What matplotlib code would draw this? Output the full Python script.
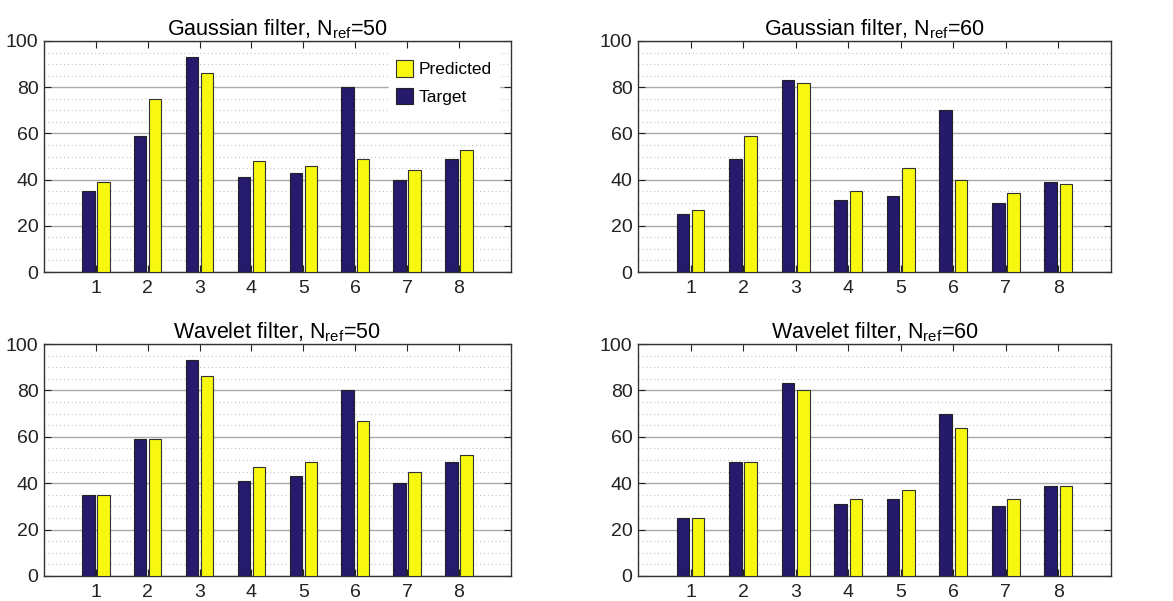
import numpy as np
import matplotlib.pyplot as plt
from matplotlib.ticker import MultipleLocator

plt.rcParams['font.family'] = ['Liberation Sans', 'DejaVu Sans']
plt.rcParams['mathtext.fontset'] = 'custom'
plt.rcParams['mathtext.rm'] = 'Liberation Sans'

categories = [1, 2, 3, 4, 5, 6, 7, 8]
titles = [r'Gaussian filter, N$_{\rm ref}$=50', r'Gaussian filter, N$_{\rm ref}$=60',
          r'Wavelet filter, N$_{\rm ref}$=50', r'Wavelet filter, N$_{\rm ref}$=60']

target_50 = [35, 59, 93, 41, 43, 80, 40, 49]
target_60 = [25, 49, 83, 31, 33, 70, 30, 39]
gauss_pred_50 = [39, 75, 86, 48, 46, 49, 44, 53]
gauss_pred_60 = [27, 59, 82, 35, 45, 40, 34, 38]
wave_pred_50 = [35, 59, 86, 47, 49, 67, 45, 52]
wave_pred_60 = [25, 49, 80, 33, 37, 64, 33, 39]

targets = [target_50, target_60, target_50, target_60]
preds = [gauss_pred_50, gauss_pred_60, wave_pred_50, wave_pred_60]

navy = '#261a6c'
yellow = '#f7f710'

fig = plt.figure(figsize=(11.73, 6.01), dpi=100)
# [left, bottom, width, height] für jedes Panel
boxes = [[0.0375, 0.5474, 0.398, 0.3844], [0.5439, 0.5474, 0.4032, 0.3844],
         [0.0375, 0.0416, 0.398, 0.386], [0.5439, 0.0416, 0.4032, 0.386]]

x = np.array(categories)
w = 0.24
for i in range(4):
    ax = fig.add_axes(boxes[i])
    b1 = ax.bar(x - 0.145, targets[i], w, color=navy, edgecolor='#222222', linewidth=0.8, zorder=3, label='Target')
    b2 = ax.bar(x + 0.145, preds[i], w, color=yellow, edgecolor='#333333', linewidth=0.8, zorder=3, label='Predicted')
    ax.set_xlim(0, 9)
    ax.set_ylim(0, 100)
    ax.set_xticks(categories)
    ax.yaxis.set_major_locator(MultipleLocator(20))
    ax.yaxis.set_minor_locator(MultipleLocator(5))
    ax.grid(True, which='major', axis='y', color='#aaaaaa', linewidth=1.0, zorder=0)
    ax.grid(True, which='minor', axis='y', color='#c4c4c4', linestyle=(0, (1, 2.5)), linewidth=0.8, zorder=0)
    ax.tick_params(which='both', direction='in', top=True, right=True, labelsize=14, colors='#222222')
    ax.tick_params(which='minor', length=0)
    ax.tick_params(which='major', length=5)
    ax.tick_params(axis='y', pad=4)
    ax.tick_params(axis='x', pad=6)
    for s in ax.spines.values():
        s.set_color('#333333')
        s.set_linewidth(1.0)
    ax.set_title(titles[i], fontsize=15.5, pad=4)
    if i == 0:
        ax.legend([b2, b1], ['Predicted', 'Target'], loc='upper right', frameon=True,
                  fancybox=False, edgecolor='white', framealpha=1, fontsize=12.5,
                  handlelength=1.0, handleheight=1.1, handletextpad=0.3,
                  borderaxespad=0.7, labelspacing=0.6)

plt.savefig('out.png', dpi=100)
